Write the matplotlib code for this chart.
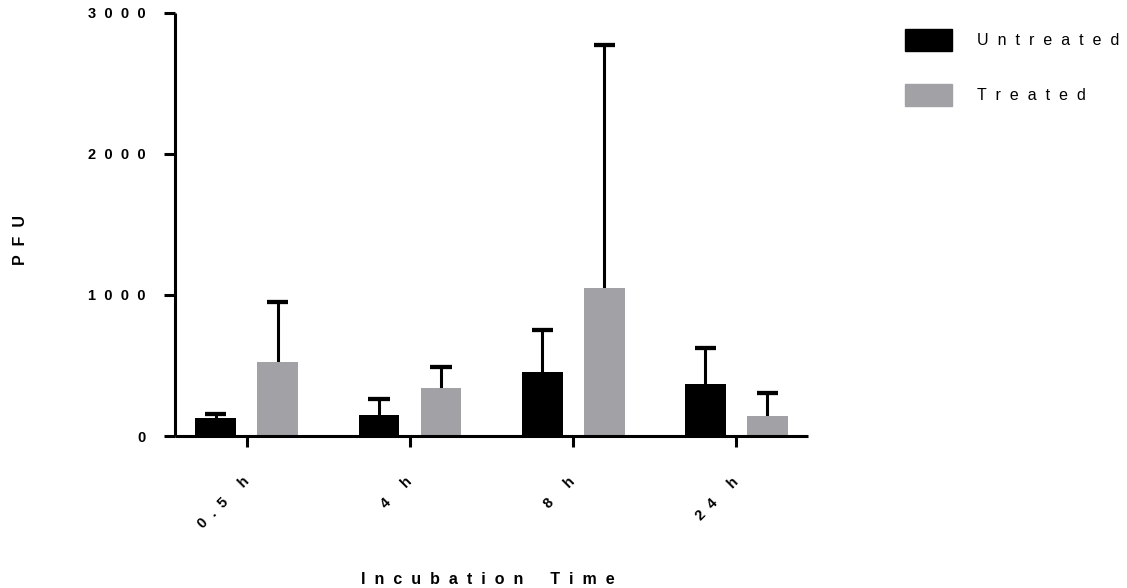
import numpy as np
import matplotlib.pyplot as plt
from matplotlib.patches import Patch
from matplotlib.transforms import ScaledTranslation

# data
times = ['0.5 h', '4 h', '8 h', '24 h']
untreated = [128, 149, 454, 369]
untreated_err = [28, 113, 298, 255]
treated = [525, 340, 1050, 142]
treated_err = [425, 149, 1723, 163]
yticks = [0, 1000, 2000, 3000]

GRAY = '#a2a1a6'
LW = 2.2
FS = 10.5
FS_LAB = 11.5
SEP = '  '

def spaced(s):
	return SEP.join(s)

plt.rcParams['font.family'] = ['Liberation Sans', 'DejaVu Sans']

fig = plt.figure(figsize=(11.27, 5.88), dpi=100)
ax = fig.add_axes([0.1553, 0.2585, 0.717 - 0.1553, 0.978 - 0.2585])

x = np.arange(len(times))
w = 0.25
off = 0.19
cap = 0.065

def upper_err(xs, vals, errs):
	vals = np.asarray(vals, dtype=float)
	tops = vals + np.asarray(errs)
	ax.vlines(xs, vals, tops, color='black', lw=LW, zorder=1)
	ax.hlines(tops, xs - cap, xs + cap, color='black', lw=LW * 1.4, zorder=1)

ax.bar(x - off, untreated, width=w, color='black', zorder=2)
upper_err(x - off, untreated, untreated_err)
ax.bar(x + off, treated, width=w, color=GRAY, zorder=2)
upper_err(x + off, treated, treated_err)

ax.set_xlim(-0.44, 3.44)
ax.set_ylim(0, 3000)
for s in ['top', 'right']:
	ax.spines[s].set_visible(False)
for s in ['left', 'bottom']:
	ax.spines[s].set_linewidth(LW)
	ax.spines[s].set_capstyle('butt')

ax.set_yticks(yticks)
ax.set_yticklabels([spaced(str(v)) for v in yticks], fontweight='bold', fontsize=FS)
ax.set_xticks(x)
ax.set_xticklabels([spaced(t) for t in times], rotation=45, ha='right',
	rotation_mode='anchor', fontweight='bold', fontsize=FS)
ax.tick_params(axis='y', length=8, width=LW, pad=13)
ax.tick_params(axis='x', length=8, width=LW, pad=22)
shift = ScaledTranslation(-5 / 100, 3 / 100, fig.dpi_scale_trans)
for lbl in ax.get_xticklabels():
	lbl.set_transform(lbl.get_transform() + shift)

ax.set_ylabel(spaced('PFU'), fontweight='bold', fontsize=FS_LAB)
ax.yaxis.set_label_coords(-0.232, 0.463)
ax.set_xlabel(spaced('Incubation') + SEP * 3 + spaced('Time'), fontweight='bold',
	fontsize=FS_LAB)
ax.xaxis.set_label_coords(0.494, -0.322)

handles = [Patch(color='black'), Patch(color=GRAY)]
fig.legend(handles, [spaced('Untreated'), spaced('Treated')], loc='upper left',
	bbox_to_anchor=(0.7906, 0.975), frameon=False, fontsize=FS_LAB,
	handlelength=2.9, handleheight=1.7, handletextpad=1.6, labelspacing=2.1)

fig.savefig('out.png', dpi=100)
